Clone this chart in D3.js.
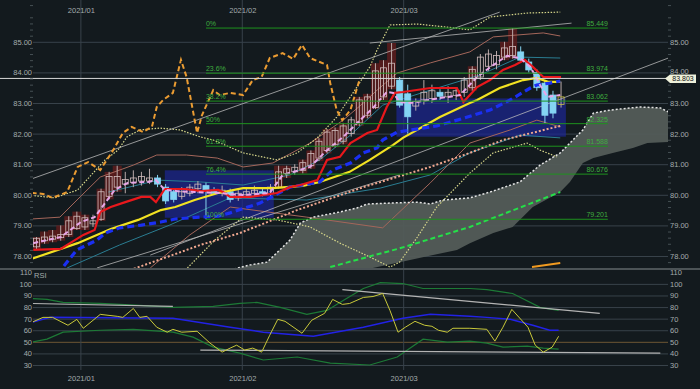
<!DOCTYPE html>
<html lang="en">
<head>
<meta charset="utf-8" />
<title>Chart</title>
<script src="https://cdnjs.cloudflare.com/ajax/libs/d3/7.8.5/d3.min.js"></script>
<style>
  body { margin: 0; background: #131a1e; }
  svg { display: block; }
</style>
</head>
<body>
<div id="chart"></div>
<script>
// ---- categories: trading days 2020/12/24 .. 2021/03/26 (no 1/1)
var days = [];
for (var d = new Date(2020, 11, 24); d <= new Date(2021, 2, 26); d.setDate(d.getDate() + 1)) {
    if (d.getDay() == 0 || d.getDay() == 6) continue;
    if (d.getMonth() == 0 && d.getDate() == 1) continue;
    days.push(new Date(d));
}
var monthLabels = ["2021/01", "2021/02", "2021/03"];

// ---- candles
var opens  = [78.30,78.50,78.55,78.60,78.70,78.90,78.95,79.05,79.20,79.95,80.25,80.35,80.40,80.45,80.45,80.55,80.25,80.10,79.95,80.05,80.20,80.30,80.15,80.05,80.10,79.90,80.00,80.05,80.10,80.05,80.25,80.70,80.75,80.80,80.95,81.20,81.45,81.65,81.75,82.00,82.35,82.60,82.85,83.20,83.55,83.75,83.30,82.90,83.10,83.15,83.35,83.20,83.25,83.35,83.50,83.85,84.20,84.25,84.50,84.55,84.67,84.34,84.00,83.65,83.26,82.95];
var highs  = [78.62,78.80,78.85,79.00,79.30,79.45,79.35,79.35,80.20,80.75,80.95,80.75,80.80,80.75,80.85,80.65,80.35,80.20,80.25,80.35,80.45,80.40,80.25,80.30,80.20,80.15,80.25,80.30,80.25,80.35,80.95,80.95,81.00,81.15,81.45,81.85,82.15,82.20,82.35,82.55,83.20,83.30,84.30,84.40,84.96,83.85,83.60,83.15,83.75,83.60,83.45,83.55,83.50,83.85,84.20,84.60,84.75,84.70,85.00,85.45,84.85,84.45,84.10,83.75,83.40,83.70];
var lows   = [78.22,78.40,78.45,78.50,78.62,78.85,78.85,78.95,79.15,79.85,80.10,80.05,80.25,80.30,80.35,80.25,79.70,79.75,79.85,79.95,80.05,79.20,80.00,79.95,79.75,79.80,79.90,79.95,79.95,79.95,80.20,80.55,80.65,80.70,80.85,81.10,81.35,81.55,81.65,81.90,82.25,82.50,82.80,83.10,83.45,82.85,82.00,82.75,82.95,83.00,83.10,83.00,83.10,83.20,83.40,83.75,84.05,84.10,84.40,84.45,84.35,84.00,83.40,82.35,82.50,82.85];
var closes = [78.58,78.62,78.65,78.70,79.15,79.30,79.25,79.15,80.10,80.60,80.60,80.50,80.55,80.60,80.55,80.35,79.80,79.85,80.10,80.25,80.35,80.15,80.05,80.15,79.85,80.05,80.10,80.15,80.05,80.25,80.75,80.85,80.90,81.05,81.35,81.75,82.05,82.10,82.25,82.45,83.10,83.20,84.05,84.15,84.30,82.93,82.55,83.05,83.35,83.40,83.22,83.35,83.40,83.75,84.10,84.50,84.60,84.55,84.80,84.85,84.40,84.08,83.50,82.60,82.67,83.20];
var lastPrice = 83.803;
var redShade = [0,1,2,3,4,5,6,8,9,10,30,31,33,34,35,36,37,38,40,41,42,43,44,54,58,59];
var blueZones = [[15.9, 29.4, 80.80, 79.25], [44.6, 65.6, 83.15, 81.90]];

// ---- fibonacci
var fibPct = ["0%", "23.6%", "38.2%", "50%", "61.8%", "76.4%", "100%"];
var fibVal = [85.449, 83.974, 83.062, 82.325, 81.588, 80.676, 79.201];
var fibFrom = 21, fibTo = 70.8;

// ---- indicator lines [day index, price]
var redLine = [[-0.4,78.20],[3.0,78.23],[5.8,78.69],[7.2,78.85],[7.9,79.44],[9.2,79.60],[11.0,79.76],[13.0,79.93],[14.1,79.93],[14.8,79.76],[15.9,80.19],[18.4,80.19],[20.4,80.12],[22.5,80.16],[23.1,80.09],[24.0,79.93],[26.5,79.93],[29.8,80.06],[31.4,80.25],[32.7,80.32],[34.8,80.48],[36.0,81.14],[37.6,81.24],[38.9,81.69],[41.0,82.02],[42.2,82.12],[43.4,82.87],[44.4,83.33],[45.4,83.36],[48.8,83.49],[52.1,83.49],[52.9,83.03],[54.6,83.52],[56.2,83.75],[57.8,84.08],[59.3,84.24],[60.5,84.41],[61.5,84.18],[62.8,83.85],[65.0,83.85]];
var yellowLine = [[-1.0,77.87],[5.1,78.42],[9.2,78.88],[12.6,79.18],[15.4,79.50],[17.2,79.60],[19.6,79.83],[22.5,80.06],[25.6,80.22],[29.3,80.22],[33.0,80.29],[35.1,80.42],[38.8,80.75],[41.3,81.14],[44.2,81.63],[45.4,81.86],[50.0,82.54],[53.7,83.00],[54.6,83.10],[57.4,83.49],[60.3,83.75],[62.0,83.82],[63.4,83.69],[64.9,83.69]];
var blueDash = [[2.5,77.40],[3.3,77.64],[5.0,78.20],[7.5,78.52],[8.5,78.75],[10.3,78.92],[13.0,79.01],[15.4,79.11],[17.2,79.21],[20.3,79.27],[22.5,79.30],[24.0,79.41],[27.7,79.73],[31.4,80.25],[35.1,80.42],[36.7,80.81],[38.9,81.04],[40.5,81.37],[42.2,81.53],[42.9,81.79],[44.7,82.05],[49.6,82.25],[53.4,82.54],[56.2,82.77],[58.7,83.10],[61.2,83.49],[62.0,83.59],[63.6,83.65],[64.9,83.72]];
var pinkDash = [[-0.4,78.42],[3.0,78.62],[5.5,79.11],[7.2,79.27],[8.5,79.73],[9.7,80.16],[11.3,80.39],[13.8,80.42],[14.8,80.48],[15.9,80.16],[17.5,80.12],[19.6,80.09],[22.5,80.06],[25.6,79.99],[28.9,80.06],[30.5,80.65],[33.9,80.91],[36.0,81.46],[38.0,81.89],[40.1,82.44],[41.7,82.84],[43.4,83.36],[44.2,83.33],[45.0,83.03],[46.3,83.00],[50.0,83.16],[52.5,83.26],[54.6,83.85],[56.6,84.24],[58.3,84.54],[59.9,84.47],[61.2,84.18],[62.4,83.59],[63.3,83.20],[64.9,83.26]];
var orangeDash = [[-0.6,80.06],[0.8,80.03],[2.0,79.90],[3.8,80.09],[5.1,80.91],[6.4,81.07],[7.9,80.81],[9.5,81.46],[10.7,82.02],[11.8,82.22],[13.2,82.05],[14.3,82.22],[14.9,82.87],[15.7,83.10],[16.9,83.33],[17.9,84.41],[18.6,83.85],[19.9,82.02],[20.5,82.60],[21.9,83.42],[22.7,83.26],[24.0,83.33],[25.6,83.26],[26.8,83.75],[27.9,83.85],[28.9,84.47],[30.5,84.63],[31.8,84.44],[32.9,84.90],[33.9,84.47],[36.0,84.24],[36.4,83.65],[37.2,82.77],[37.9,82.44],[38.9,82.77],[40.1,83.82]];
var cloudTop = [[24.0,77.54],[26.5,77.71],[28.6,77.80],[31.4,78.52],[32.7,79.08],[34.3,79.27],[37.6,79.44],[39.7,79.57],[41.0,79.70],[43.8,79.73],[47.2,79.76],[48.8,79.70],[50.4,79.83],[53.7,79.90],[56.2,80.09],[59.9,80.42],[62.4,80.97],[64.9,81.37],[66.1,81.69],[67.7,82.12],[69.0,82.67],[71.1,82.77],[74.8,82.87],[77.3,82.84],[78.3,82.71]];
var cloudBot = [[24.0,77.00],[40.5,77.54],[45.0,77.80],[52.1,78.20],[53.7,78.42],[56.6,78.75],[59.0,78.95],[61.5,79.60],[64.9,80.09],[66.1,80.42],[67.7,81.04],[69.0,81.20],[71.4,81.37],[73.9,81.53],[75.7,81.69],[78.3,81.73]];
var greenDash = [[36.4,77.64],[45.0,78.25],[53.7,78.95],[64.9,80.09]];
var orangeShort = [[61.4,77.64],[64.9,77.77]];
var salmonDot = [[11.6,77.54],[16.2,77.97],[20.3,78.36],[25.2,78.75],[32.3,79.50],[40.5,80.25],[48.8,80.91],[53.7,81.37],[57.8,81.79],[64.9,82.25]];
var bbUp2 = [[-0.6,79.21],[2.9,79.27],[5.4,79.93],[7.9,80.58],[12.0,80.97],[14.9,81.30],[18.6,81.30],[22.4,81.20],[25.6,80.91],[29.3,81.04],[33.9,81.69],[38.0,82.44],[40.5,83.00],[42.2,83.42],[44.7,83.98],[48.8,84.31],[53.7,84.67],[56.6,85.16],[62.8,85.29],[64.9,85.19]];
var bbLow2 = [[14.1,77.61],[19.0,78.69],[24.0,79.60],[33.5,79.27],[42.9,78.92],[48.8,80.39],[53.7,81.69],[58.7,82.12],[62.0,82.44],[64.9,82.22]];
var bbUp3 = [[-1.0,79.99],[2.3,79.90],[5.1,80.16],[8.5,81.14],[10.1,81.46],[11.2,81.89],[12.8,82.12],[15.3,82.18],[17.8,82.12],[20.3,81.89],[21.9,81.79],[25.6,81.37],[29.8,81.14],[32.3,81.37],[34.8,81.86],[37.2,82.54],[39.7,83.52],[41.3,84.18],[42.2,84.73],[43.8,85.55],[47.2,85.58],[50.9,85.48],[53.7,85.39],[56.2,85.81],[60.8,85.94],[64.9,85.97]];
var bbLow3 = [[18.7,77.61],[22.1,78.52],[25.6,79.27],[29.8,79.18],[33.9,78.95],[37.6,78.42],[41.3,77.97],[43.8,77.64],[45.0,77.80],[47.2,78.62],[49.6,79.60],[53.7,80.71],[56.6,81.37],[60.8,81.69],[62.4,81.46],[64.5,81.24]];
var tealUp = [[8.9,80.09],[15.1,80.48],[20.3,80.42],[25.6,80.32],[31.4,80.65],[35.1,81.14],[38.9,81.95],[42.9,82.93],[48.8,83.42],[55.0,83.92],[59.9,84.50],[64.9,84.47]];
var tealLow = [[3.8,77.61],[10.3,78.36],[16.5,79.01],[24.0,79.90],[33.5,79.83],[42.6,80.22],[48.8,80.65],[53.7,81.37],[59.9,81.95],[64.9,81.86]];
var trendLines = [
    [[-0.6,80.52],[57.4,85.97]],
    [[14.1,78.03],[78.3,84.47]],
    [[7.5,77.61],[45.0,80.65]],
    [[41.3,84.96],[66.3,85.61]]
];

// ---- RSI panel [day index, value]
var rsiLine = [[-0.6,66.8],[0.8,71.1],[2.0,71.1],[3.9,64.3],[5.0,69.4],[5.8,61.7],[7.9,73.7],[10.0,72.0],[10.7,71.1],[12.0,78.8],[12.8,71.1],[13.7,72.0],[14.9,62.6],[16.2,58.3],[16.9,60.8],[18.0,58.3],[19.9,59.1],[21.5,48.9],[23.0,41.1],[24.0,44.6],[24.8,47.1],[25.8,42.9],[26.8,44.6],[27.9,41.1],[28.9,55.7],[29.9,69.4],[30.8,67.7],[32.9,57.4],[34.1,68.6],[35.7,74.6],[36.7,86.6],[37.9,82.3],[38.8,83.1],[40.5,88.3],[41.7,89.1],[42.9,91.7],[43.8,77.1],[44.8,58.3],[45.7,62.6],[46.9,67.7],[48.1,64.3],[49.0,63.4],[49.8,60.0],[50.9,58.3],[51.6,61.7],[53.7,61.7],[55.8,60.8],[56.8,50.6],[57.8,62.6],[58.9,78.0],[60.9,62.6],[61.8,47.1],[62.8,41.1],[63.9,45.4],[64.7,54.8]];
var rsiAvg = [[-0.6,66.8],[1.7,71.1],[16.9,70.3],[24.0,62.6],[28.1,58.3],[34.3,54.8],[40.5,62.6],[45.4,70.3],[48.8,73.7],[53.7,72.0],[55.8,71.1],[58.7,69.4],[61.5,64.3],[63.6,60.0],[64.7,60.0]];
var rsiBandUp = [[-0.6,87.4],[1.3,86.6],[3.3,84.0],[7.9,83.1],[12.8,81.4],[16.9,79.7],[21.9,80.6],[25.2,83.1],[27.3,84.0],[30.2,79.7],[33.5,73.7],[36.0,77.1],[38.0,85.7],[40.5,96.0],[42.6,101.1],[45.4,100.3],[47.9,96.0],[53.7,96.0],[55.8,95.1],[59.0,91.7],[62.4,79.7],[64.7,77.1]];
var rsiBandLow = [[-0.6,49.7],[1.3,52.3],[3.3,58.3],[7.9,60.0],[12.0,60.8],[16.9,58.3],[19.4,54.0],[21.9,45.4],[25.2,40.3],[28.1,34.3],[32.3,36.9],[36.4,31.7],[41.3,30.0],[44.7,36.9],[47.9,52.3],[50.9,49.7],[53.7,50.6],[55.8,48.9],[57.8,45.4],[60.8,46.3],[62.8,44.6],[64.7,43.7]];
var rsiTrend = [
    [[-0.6,83.1],[16.9,80.6]],
    [[20.3,42.9],[77.3,40.3]],
    [[37.9,95.1],[69.8,74.6]]
];

var priceTicks = [78, 79, 80, 81, 82, 83, 84, 85];
var rsiGrid = [30, 40, 50, 60, 70, 80, 90, 100];
var rsiLabels = [30, 40, 50, 60, 70, 80, 90, 100, 110];

// ---- layout
var W = 700, H = 389;
var L = 33, R = 668;
var font = "'Liberation Sans', Arial, sans-serif";
var txt = "#a4acad";

var svg = d3.select("#chart").append("svg").attr("width", W).attr("height", H);
svg.append("rect").attr("width", W).attr("height", H).attr("fill", "#131a1e");

var x = d3.scaleLinear().domain([0, days.length - 1]).range([36.5, 36.5 + 8.07 * (days.length - 1)]);
var y = d3.scaleLinear().domain([77.608, 86.366]).range([268, 0]);
var yr = d3.scaleLinear().domain([30, 110]).range([365, 272.3]);

// month boundaries (between last day of month and first day of next)
var monthTicks = [];
days.forEach(function (dd, i) {
    if (i > 0 && dd.getMonth() != days[i - 1].getMonth()) monthTicks.push(i - 0.5);
});

var defs = svg.append("defs");
defs.append("clipPath").attr("id", "clipMain").append("rect")
    .attr("x", L).attr("y", 0).attr("width", R - L).attr("height", 268);
defs.append("clipPath").attr("id", "clipRsi").append("rect")
    .attr("x", L).attr("y", 270).attr("width", R - L).attr("height", 100);

function styleAxis(g, size) {
    g.select(".domain").remove();
    g.attr("font-family", font).attr("font-size", size);
    g.selectAll("text").attr("fill", txt);
    return g;
}

// ---- grids
var gGrid = svg.append("g").attr("transform", "translate(" + L + ",0)")
    .call(d3.axisRight(y).tickValues(priceTicks).tickSize(R - L).tickFormat(""));
gGrid.select(".domain").remove();
gGrid.selectAll("line").attr("stroke", "#38424a");

var gRGrid = svg.append("g").attr("transform", "translate(" + L + ",0)")
    .call(d3.axisRight(yr).tickValues(rsiGrid).tickSize(R - L).tickFormat(""));
gRGrid.select(".domain").remove();
gRGrid.selectAll("line").attr("stroke", function (d) { return d == 50 ? "#6e5634" : "#38424a"; });

svg.selectAll(".vgrid").data(monthTicks).enter().append("line")
    .attr("x1", function (d) { return x(d); }).attr("x2", function (d) { return x(d); })
    .attr("y1", 0).attr("y2", 370).attr("stroke", "#38424a");

// separator between panels
svg.append("line").attr("x1", 0).attr("x2", W).attr("y1", 269).attr("y2", 269)
    .attr("stroke", "#4c5356").attr("stroke-width", 2);

// ---- main panel
var main = svg.append("g").attr("clip-path", "url(#clipMain)");
var line = d3.line().x(function (d) { return x(d[0]); }).y(function (d) { return y(d[1]); });

// ichimoku cloud
main.append("path")
    .attr("d", line(cloudTop.concat(cloudBot.slice().reverse())) + "Z")
    .attr("fill", "#535c58").attr("opacity", 0.95);

// zones
main.selectAll(".bz").data(blueZones).enter().append("rect")
    .attr("x", function (d) { return x(d[0]); })
    .attr("width", function (d) { return x(d[1]) - x(d[0]); })
    .attr("y", function (d) { return y(d[2]); })
    .attr("height", function (d) { return y(d[3]) - y(d[2]); })
    .attr("fill", "#1c2794").attr("opacity", 0.7);

main.selectAll(".rs").data(redShade).enter().append("rect")
    .attr("x", function (i) { return x(i) - 4.5; }).attr("width", 9)
    .attr("y", function (i) { return y(highs[i]); })
    .attr("height", function (i) { return y(lows[i]) - y(highs[i]); })
    .attr("fill", "#621b1b").attr("opacity", 0.8);

function drawLine(g, data, color, width, dash, opacity) {
    g.append("path").attr("d", line(data)).attr("fill", "none")
        .attr("stroke", color).attr("stroke-width", width)
        .attr("stroke-dasharray", dash || null)
        .attr("opacity", opacity || 1);
}

// bands
drawLine(main, tealUp, "#2a7d92", 1);
drawLine(main, tealLow, "#2a7d92", 1);
drawLine(main, bbUp2, "#a4665a", 1);
drawLine(main, bbLow2, "#a4665a", 1);
drawLine(main, bbUp3, "#d6d68a", 1.2, "1.5,1.5");
drawLine(main, bbLow3, "#d6d68a", 1.2, "1.5,1.5");
trendLines.forEach(function (t) { drawLine(main, t, "#bfbfbf", 0.9, null, 0.85); });

drawLine(main, salmonDot, "#f0a890", 2, "2,2");
drawLine(main, greenDash, "#24e048", 2, "5,3");
drawLine(main, orangeShort, "#f09a20", 2);

// fibonacci retracement
var fib = svg.append("g");
fib.selectAll("line").data(fibVal).enter().append("line")
    .attr("x1", x(fibFrom)).attr("x2", x(fibTo))
    .attr("y1", function (d) { return y(d); }).attr("y2", function (d) { return y(d); })
    .attr("stroke", "#1e921e").attr("stroke-width", 1);
fib.selectAll(".fp").data(fibPct).enter().append("text")
    .attr("x", x(fibFrom)).attr("y", function (d, i) { return y(fibVal[i]) - 2; })
    .attr("font-family", font).attr("font-size", 7).attr("fill", "#3fae3f")
    .text(function (d) { return d; });
fib.selectAll(".fv").data(fibVal).enter().append("text")
    .attr("x", x(fibTo)).attr("y", function (d) { return y(d) - 2; })
    .attr("text-anchor", "end")
    .attr("font-family", font).attr("font-size", 7).attr("fill", "#3fae3f")
    .text(function (d) { return d3.format(".3f")(d); });

// candles
var cg = main.selectAll(".candle").data(d3.range(opens.length)).enter().append("g");
cg.append("line")
    .attr("x1", function (i) { return x(i); }).attr("x2", function (i) { return x(i); })
    .attr("y1", function (i) { return y(highs[i]); }).attr("y2", function (i) { return y(lows[i]); })
    .attr("stroke", function (i) { return closes[i] >= opens[i] ? "#b9a9a9" : "#86d2ef"; });
cg.append("rect")
    .attr("x", function (i) { return x(i) - 3; }).attr("width", 6)
    .attr("y", function (i) { return y(Math.max(opens[i], closes[i])); })
    .attr("height", function (i) { return Math.max(1, Math.abs(y(opens[i]) - y(closes[i]))); })
    .attr("fill", function (i) { return closes[i] >= opens[i] ? "none" : "#84d4f4"; })
    .attr("stroke", function (i) {
        if (i == opens.length - 1) return "#c8c040";
        return closes[i] >= opens[i] ? "#d2bcbc" : "#84d4f4";
    })
    .attr("stroke-width", 0.8);

drawLine(main, yellowLine, "#f2e222", 2.2);
drawLine(main, blueDash, "#1a2ff2", 3.2, "7,4");
drawLine(main, redLine, "#e8181c", 2.2);
drawLine(main, pinkDash, "#e8a6e8", 2, "5,3");
drawLine(main, cloudTop, "#e4e4e4", 1.5, "2,2");
drawLine(main, orangeDash, "#eb9c32", 2, "5,3");

// last price line + tag
svg.append("line").attr("x1", 0).attr("x2", R)
    .attr("y1", y(lastPrice)).attr("y2", y(lastPrice))
    .attr("stroke", "#d8d8d8").attr("stroke-width", 1);

// ---- RSI panel
var rsi = svg.append("g").attr("clip-path", "url(#clipRsi)");
var rline = d3.line().x(function (d) { return x(d[0]); }).y(function (d) { return yr(d[1]); });
function drawR(data, color, width) {
    rsi.append("path").attr("d", rline(data)).attr("fill", "none")
        .attr("stroke", color).attr("stroke-width", width);
}
drawR(rsiBandUp, "#1d7a36", 1.2);
drawR(rsiBandLow, "#1d7a36", 1.2);
rsiTrend.forEach(function (t) { drawR(t, "#b4b4b4", 1.2); });
drawR(rsiAvg, "#2222e6", 1.5);
drawR(rsiLine, "#c9c93a", 1);

// ---- axes / labels
var minor = d3.range(77.8, 86.3, 0.2).filter(function (v) { return Math.abs(v - Math.round(v)) > 0.05; });
styleAxis(svg.append("g").attr("transform", "translate(" + L + ",0)")
    .call(d3.axisLeft(y).tickValues(minor).tickSize(3).tickFormat("")), 7)
    .selectAll("line").attr("stroke", "#465054");
styleAxis(svg.append("g").attr("transform", "translate(" + R + ",0)")
    .call(d3.axisRight(y).tickValues(minor).tickSize(3).tickFormat("")), 7)
    .selectAll("line").attr("stroke", "#465054");

styleAxis(svg.append("g").attr("transform", "translate(" + L + ",0)")
    .call(d3.axisLeft(y).tickValues(priceTicks).tickSize(0).tickPadding(1).tickFormat(d3.format(".2f"))), 7.5);
// right labels; 84.00 sits just above the price tag
styleAxis(svg.append("g").attr("transform", "translate(" + R + ",0)")
    .call(d3.axisRight(y).tickValues(priceTicks).tickSize(0).tickPadding(2).tickFormat(d3.format(".2f"))), 7.5)
    .selectAll("text").attr("dy", function (d) { return d == 84 ? "0.1em" : "0.32em"; });

var py = y(lastPrice);
svg.append("path")
    .attr("d", "M" + (R - 3) + "," + py + "L" + (R + 2) + "," + (py - 4) + "L" + (R + 28) + "," + (py - 4) +
        "L" + (R + 28) + "," + (py + 4.5) + "L" + (R + 2) + "," + (py + 4.5) + "Z")
    .attr("fill", "#eef0da");
svg.append("text").attr("x", R + 15).attr("y", py + 2.6).attr("text-anchor", "middle")
    .attr("font-family", font).attr("font-size", 7).attr("fill", "#111")
    .text(d3.format(".3f")(lastPrice));

styleAxis(svg.append("g").attr("transform", "translate(" + L + ",0)")
    .call(d3.axisLeft(yr).tickValues(rsiLabels).tickSize(0).tickPadding(1)), 7.5);
styleAxis(svg.append("g").attr("transform", "translate(" + R + ",0)")
    .call(d3.axisRight(yr).tickValues(rsiLabels).tickSize(0).tickPadding(2)), 7.5);

svg.append("text").attr("x", L + 1).attr("y", 278).attr("font-family", font)
    .attr("font-size", 7.5).attr("fill", txt).text("RSI");

styleAxis(svg.append("g").attr("transform", "translate(0,13)")
    .call(d3.axisTop(x).tickValues(monthTicks).tickSize(0).tickPadding(0)
        .tickFormat(function (d, i) { return monthLabels[i]; })), 7.5);
styleAxis(svg.append("g").attr("transform", "translate(0,376)")
    .call(d3.axisBottom(x).tickValues(monthTicks).tickSize(0).tickPadding(0)
        .tickFormat(function (d, i) { return monthLabels[i]; })), 7.5);
</script>
</body>
</html>
